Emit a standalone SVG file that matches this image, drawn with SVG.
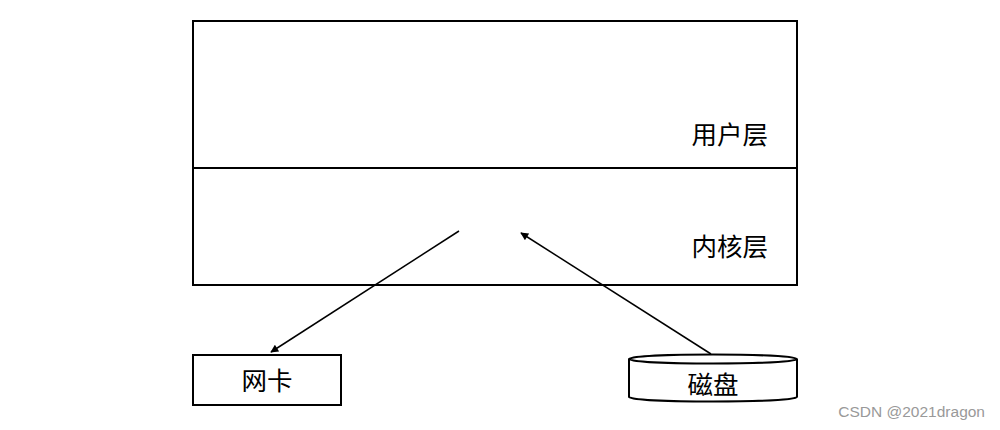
<svg xmlns="http://www.w3.org/2000/svg" width="1000" height="430" viewBox="0 0 1000 430">
<style>
.box{fill:#fff;stroke:#000;stroke-width:2}
.lbl{font-family:"Noto Sans CJK SC","Liberation Sans",sans-serif;font-size:25.5px;fill:#000}
.conn{stroke:#000;stroke-width:1.5;fill:none}
.wm{font-family:"Liberation Sans",sans-serif;font-size:15.5px;fill:#999}
</style>
<defs>
<marker id="ah" viewBox="0 0 10 10" refX="9" refY="5" markerWidth="9" markerHeight="8" markerUnits="userSpaceOnUse" orient="auto">
<path d="M0,0 L10,5 L0,10 z" fill="#000"/>
</marker>
</defs>
<rect width="1000" height="430" fill="#fff"/>
<g id="user">
<rect class="box" x="193" y="21" width="604" height="147"/>
<text class="lbl" x="768" y="144" text-anchor="end">用户层</text>
</g>
<g id="kernel">
<rect class="box" x="193" y="168" width="604" height="117"/>
<text class="lbl" x="768" y="256" text-anchor="end">内核层</text>
</g>
<g id="nic">
<rect class="box" x="193" y="355" width="148" height="50"/>
<text class="lbl" x="267" y="390" text-anchor="middle">网卡</text>
</g>
<g id="disk">
<path class="box" d="M629,359 L629,397 A84,4.5 0 0 0 797,397 L797,359"/>
<ellipse class="box" cx="713" cy="359" rx="84" ry="4.5"/>
<text class="lbl" x="713" y="394" text-anchor="middle">磁盘</text>
</g>
<g id="connectors">
<line class="conn" x1="459" y1="231" x2="271" y2="352" marker-end="url(#ah)"/>
<line class="conn" x1="711" y1="354" x2="521" y2="233" marker-end="url(#ah)"/>
</g>
<text class="wm" x="985" y="417" text-anchor="end">CSDN @2021dragon</text>
</svg>
